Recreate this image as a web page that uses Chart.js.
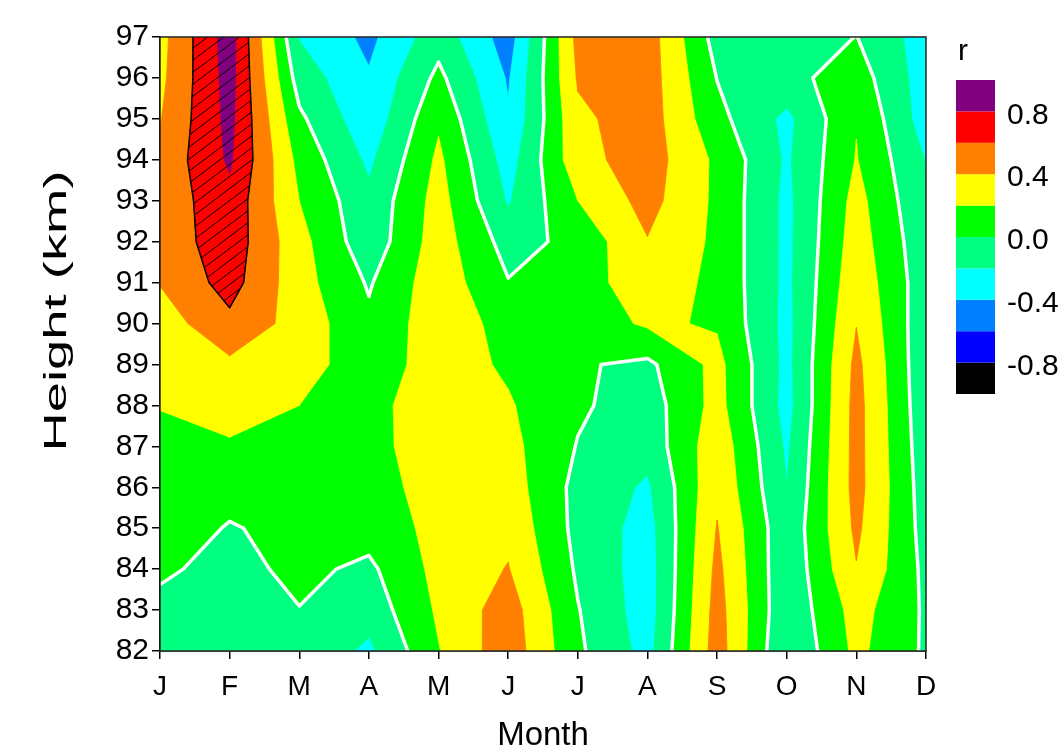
<!DOCTYPE html>
<html>
<head>
<meta charset="utf-8">
<script src="https://cdn.jsdelivr.net/npm/chart.js@4.4.1/dist/chart.umd.min.js"></script>
<style>
  html, body { margin: 0; padding: 0; background: #fff; }
  canvas { display: block; }
</style>
</head>
<body>
<canvas id="chart" width="1058" height="749"></canvas>
<script>
const months = ["J", "F", "M", "A", "M", "J", "J", "A", "S", "O", "N", "D"];
const heights = [97, 96, 95, 94, 93, 92, 91, 90, 89, 88, 87, 86, 85, 84, 83, 82];

// correlation r at each height, Jan .. Dec
const r97 = [0.33, 0.90, -0.21, -0.45, -0.08, -0.50, 0.46, 0.50, -0.08, -0.15, 0.005, -0.30];
const r96 = [0.35, 0.88, -0.09, -0.38, 0.05, -0.42, 0.42, 0.50, -0.005, -0.06, 0.10, -0.30];
const r95 = [0.39, 0.86, 0.04, -0.34, 0.17, -0.38, 0.36, 0.50, 0.06, -0.25, 0.19, -0.30];
const r94 = [0.45, 0.83, 0.14, -0.24, 0.24, -0.29, 0.33, 0.50, 0.16, -0.23, 0.21, -0.21];
const r93 = [0.47, 0.74, 0.20, -0.15, 0.28, -0.22, 0.20, 0.47, 0.16, -0.25, 0.27, -0.18];
const r92 = [0.47, 0.72, 0.27, -0.13, 0.30, -0.08, 0.06, 0.39, 0.16, -0.25, 0.30, -0.14];
const r91 = [0.41, 0.68, 0.28, -0.02, 0.32, 0.01, 0.12, 0.30, 0.16, -0.25, 0.34, -0.12];
const r90 = [0.30, 0.55, 0.32, 0.04, 0.32, 0.13, 0.08, 0.23, 0.18, -0.26, 0.395, -0.14];
const r89 = [0.26, 0.36, 0.29, 0.08, 0.30, 0.17, 0.02, -0.04, 0.26, -0.26, 0.45, -0.15];
const r88 = [0.21, 0.27, 0.20, 0.12, 0.35, 0.22, 0.03, -0.10, 0.27, -0.27, 0.47, -0.14];
const r87 = [0.13, 0.18, 0.15, 0.12, 0.34, 0.26, -0.01, -0.13, 0.33, -0.23, 0.47, -0.12];
const r86 = [0.14, 0.10, 0.10, 0.10, 0.30, 0.30, -0.06, -0.23, 0.36, -0.199, 0.47, -0.10];
const r85 = [0.15, -0.02, 0.08, 0.08, 0.26, 0.35, -0.06, -0.28, 0.41, -0.15, 0.44, -0.08];
const r84 = [0.03, -0.06, 0.045, -0.04, 0.26, 0.41, -0.03, -0.30, 0.45, -0.16, 0.39, -0.05];
const r83 = [-0.05, -0.12, -0.005, -0.12, 0.23, 0.50, 0.01, -0.30, 0.48, -0.16, 0.28, -0.03];
const r82 = [-0.08, -0.12, -0.05, -0.24, 0.19, 0.525, 0.035, -0.27, 0.50, -0.20, 0.25, -0.03];
const rows = [r97, r96, r95, r94, r93, r92, r91, r90, r89, r88, r87, r86, r85, r84, r83, r82];

// contour levels and fill colours (lowest band first)
const levels = [-0.8, -0.6, -0.4, -0.2, 0, 0.2, 0.4, 0.6, 0.8];
const bandColors = ["#000000", "#0000ff", "#0080ff", "#00ffff", "#00ff80",
  "#00ff00", "#ffff00", "#ff8000", "#ff0000", "#800080"];
const cbTicks = [0.8, 0.4, 0.0, -0.4, -0.8];

const points = [];
heights.forEach((h, j) => {
  months.forEach((m, i) => points.push({ x: i, y: h, r: rows[j][i] }));
});

const fontFamily = "'Liberation Sans', Arial, sans-serif";

// ---------- contour helpers ----------
function buildCells(chart) {
  const xs = chart.scales.x, ys = chart.scales.y;
  const data = chart.data.datasets[0].data;
  const nx = months.length, ny = heights.length;
  const node = (i, j) => {
    const d = data[j * nx + i];
    return { px: xs.getPixelForValue(d.x), py: ys.getPixelForValue(d.y), v: d.r };
  };
  const cells = [];
  for (let j = 0; j < ny - 1; j++) {
    for (let i = 0; i < nx - 1; i++) {
      cells.push([node(i, j), node(i + 1, j), node(i + 1, j + 1), node(i, j + 1)]);
    }
  }
  return cells;
}

function clipCell(c, t) {
  const out = [];
  for (let k = 0; k < 4; k++) {
    const a = c[k], b = c[(k + 1) % 4];
    const ina = a.v >= t, inb = b.v >= t;
    if (ina) out.push([a.px, a.py]);
    if (ina !== inb) {
      const f = (t - a.v) / (b.v - a.v);
      out.push([a.px + f * (b.px - a.px), a.py + f * (b.py - a.py)]);
    }
  }
  return out;
}

function regionPath(ctx, cells, t) {
  ctx.beginPath();
  cells.forEach((c) => {
    const p = clipCell(c, t);
    if (p.length < 3) return;
    ctx.moveTo(p[0][0], p[0][1]);
    for (let k = 1; k < p.length; k++) ctx.lineTo(p[k][0], p[k][1]);
    ctx.closePath();
  });
}

function contourPath(ctx, cells, t) {
  ctx.beginPath();
  cells.forEach((c) => {
    const cr = [];
    for (let k = 0; k < 4; k++) {
      const a = c[k], b = c[(k + 1) % 4];
      if ((a.v >= t) !== (b.v >= t)) {
        const f = (t - a.v) / (b.v - a.v);
        cr.push({ x: a.px + f * (b.px - a.px), y: a.py + f * (b.py - a.py), exit: a.v >= t });
      }
    }
    for (let k = 0; k < cr.length; k++) {
      if (!cr[k].exit) continue;
      const n = cr[(k + 1) % cr.length];
      ctx.moveTo(cr[k].x, cr[k].y);
      ctx.lineTo(n.x, n.y);
    }
  });
}

const contourPlugin = {
  id: "contour",
  beforeDatasetsDraw(chart) {
    const ctx = chart.ctx;
    const area = chart.chartArea;
    const cells = buildCells(chart);
    ctx.save();
    ctx.beginPath();
    ctx.rect(area.left, area.top, area.right - area.left, area.bottom - area.top);
    ctx.clip();
    ctx.fillStyle = bandColors[0];
    ctx.fillRect(area.left, area.top, area.right - area.left, area.bottom - area.top);
    levels.forEach((t, k) => {
      regionPath(ctx, cells, t);
      ctx.fillStyle = bandColors[k + 1];
      ctx.strokeStyle = bandColors[k + 1];
      ctx.lineWidth = 0.8;
      ctx.lineJoin = "round";
      ctx.fill();
      ctx.stroke();
    });

    // hatching where r >= 0.6
    ctx.save();
    regionPath(ctx, cells, 0.6);
    ctx.clip();
    ctx.beginPath();
    const w = area.right - area.left;
    const slope = Math.tan(37 * Math.PI / 180);
    for (let b = area.top; b < area.bottom + w * slope; b += 12) {
      ctx.moveTo(area.left, b);
      ctx.lineTo(area.right, b - w * slope);
    }
    ctx.strokeStyle = "#000";
    ctx.lineWidth = 1;
    ctx.stroke();
    ctx.restore();

    contourPath(ctx, cells, 0.6);
    ctx.strokeStyle = "#000";
    ctx.lineWidth = 1.5;
    ctx.lineCap = "round";
    ctx.stroke();

    contourPath(ctx, cells, 0);
    ctx.strokeStyle = "#fff";
    ctx.lineWidth = 3.5;
    ctx.lineCap = "round";
    ctx.stroke();
    ctx.restore();
  },
  afterDraw(chart) {
    const ctx = chart.ctx;
    const area = chart.chartArea;
    ctx.save();
    // frame
    ctx.strokeStyle = "#222";
    ctx.lineWidth = 1.5;
    ctx.strokeRect(area.left, area.top, area.right - area.left, area.bottom - area.top);

    // y axis title, drawn tall like the original
    ctx.save();
    ctx.translate(57, 311);
    ctx.rotate(-Math.PI / 2);
    ctx.scale(1.7, 1);
    ctx.fillStyle = "#000";
    ctx.font = "32px " + fontFamily;
    ctx.textAlign = "center";
    ctx.textBaseline = "middle";
    ctx.fillText("Height (km)", 0, 0);
    ctx.restore();

    // colour bar
    const cbX = 956, cbW = 39, cbTop = 80, cbBottom = 394;
    const n = bandColors.length;
    const bandH = (cbBottom - cbTop) / n;
    const vToY = (v) => cbBottom - (v + 1) / 2 * (cbBottom - cbTop);
    bandColors.forEach((c, k) => {
      ctx.fillStyle = c;
      ctx.fillRect(cbX, cbBottom - (k + 1) * bandH, cbW, bandH);
    });
    ctx.fillStyle = "#000";
    ctx.font = "30px " + fontFamily;
    ctx.textAlign = "left";
    ctx.textBaseline = "middle";
    cbTicks.forEach((v) => ctx.fillText(v.toFixed(1), cbX + cbW + 12, vToY(v) + 4));
    ctx.fillText("r", cbX + 2, 52);
    ctx.restore();
  }
};

const xTickFont = { family: fontFamily, size: 28 };
const yTickFont = { family: fontFamily, size: 30 };
const titleFont = { family: fontFamily, size: 33 };

new Chart(document.getElementById("chart"), {
  type: "scatter",
  data: {
    datasets: [{ data: points, pointRadius: 0, pointHoverRadius: 0, showLine: false }]
  },
  options: {
    responsive: false,
    animation: false,
    devicePixelRatio: 1,
    layout: { padding: { left: 0, right: 132, top: 37, bottom: 0 } },
    plugins: { legend: { display: false }, tooltip: { enabled: false } },
    scales: {
      x: {
        type: "linear",
        min: 0,
        max: months.length - 1,
        afterFit: (scale) => { scale.height = 98; },
        ticks: {
          stepSize: 1,
          autoSkip: false,
          maxRotation: 0,
          padding: 11,
          color: "#000",
          font: xTickFont,
          callback: (v) => months[v]
        },
        grid: { drawOnChartArea: false, tickLength: 8, color: "#000", lineWidth: 1.5 },
        border: { color: "#000", width: 1.5 },
        title: { display: true, text: "Month", color: "#000", font: titleFont, padding: { bottom: -7 } }
      },
      y: {
        type: "linear",
        min: heights[heights.length - 1],
        max: heights[0],
        afterFit: (scale) => { scale.width = 160; },
        ticks: {
          stepSize: 1,
          autoSkip: false,
          padding: 3,
          color: "#000",
          font: yTickFont
        },
        grid: { drawOnChartArea: false, tickLength: 8, color: "#000", lineWidth: 1.5 },
        border: { color: "#000", width: 1.5 },
        title: { display: false }
      }
    }
  },
  plugins: [contourPlugin]
});
</script>
</body>
</html>
